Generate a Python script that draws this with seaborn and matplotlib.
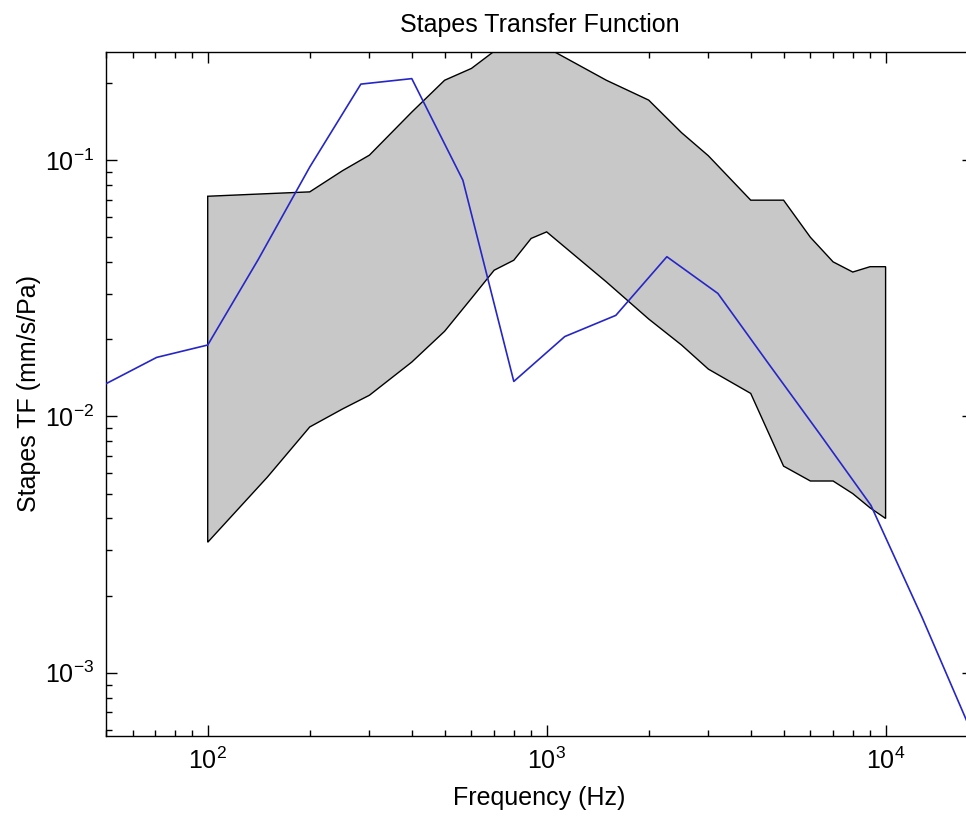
import numpy as np
import matplotlib
matplotlib.use('Agg')
import matplotlib.pyplot as plt
import seaborn as sns

# 镫骨传递函数：模型曲线（蓝线）与测量范围（灰色带）
model_freq = [50, 70.7, 100, 141, 200, 283, 400, 566, 800, 1131, 1600, 2263,
              3200, 4525, 6400, 9051, 12800, 18102]
model_tf = [0.0134, 0.0170, 0.0190, 0.0410, 0.0940, 0.198, 0.208, 0.0835,
            0.0137, 0.0205, 0.0248, 0.0420, 0.0302, 0.0160, 0.00853,
            0.00450, 0.00165, 0.00057]

band_freq = [100, 150, 200, 250, 300, 400, 500, 600, 700, 800, 900, 1000,
             1500, 2000, 2500, 3000, 4000, 5000, 6000, 7000, 8000, 9000, 10000]
band_upper = [0.0723, 0.0740, 0.0752, 0.0910, 0.1046, 0.154, 0.205, 0.228,
              0.266, 0.280, 0.280, 0.275, 0.205, 0.1715, 0.128, 0.104,
              0.0698, 0.0698, 0.0500, 0.0401, 0.0366, 0.0384, 0.0384]
band_lower = [0.00323, 0.0058, 0.0091, 0.0107, 0.0121, 0.0163, 0.0215,
              0.0289, 0.0372, 0.0407, 0.0495, 0.0525, 0.0335, 0.0240,
              0.0190, 0.0153, 0.0123, 0.0064, 0.0056, 0.0056, 0.0050,
              0.0044, 0.0040]

sns.set_theme(style='ticks')
plt.rcParams['font.family'] = ['Liberation Sans', 'DejaVu Sans']
plt.rcParams['axes.unicode_minus'] = False
plt.rcParams['text.color'] = 'black'
plt.rcParams['axes.labelcolor'] = 'black'
plt.rcParams['xtick.color'] = 'black'
plt.rcParams['ytick.color'] = 'black'
plt.rcParams['xtick.direction'] = 'in'
plt.rcParams['ytick.direction'] = 'in'

fs = 18

fig = plt.figure(figsize=(9.66, 8.24), dpi=100)
ax = fig.add_axes([0.1094, 0.1064, 0.8978, 0.8309])

# 灰色测量范围（带黑色边框的多边形）
poly_x = band_freq + band_freq[::-1] + [band_freq[0]]
poly_y = band_upper + band_lower[::-1] + [band_upper[0]]
ax.fill(poly_x, poly_y, facecolor='#c8c8c8', edgecolor='black', linewidth=1.0, zorder=1)

sns.lineplot(x=model_freq, y=model_tf, sort=False, color='#2626c8', linewidth=1.2,
             ax=ax, zorder=3)

ax.set_xscale('log')
ax.set_yscale('log')
ax.set_xlim(50, 18102)
ax.set_ylim(0.000565, 0.265)

ax.tick_params(which='both', top=True, right=True, direction='in',
               labelsize=fs, color='black', labelcolor='black', width=1.0)
ax.tick_params(which='major', length=8, pad=8)
ax.tick_params(which='minor', length=4.3)
for sp in ax.spines.values():
    sp.set_color('black')
    sp.set_linewidth(1.0)

ax.set_title('Stapes Transfer Function', fontsize=fs, pad=14, color='black')
ax.set_xlabel('Frequency (Hz)', fontsize=fs, color='black')
ax.set_ylabel('Stapes TF (mm/s/Pa)', fontsize=fs, color='black')
ax.xaxis.set_label_coords(0.5, -0.072)
ax.yaxis.set_label_coords(-0.075, 0.5)

plt.savefig('out.png', dpi=100)
plt.close()
